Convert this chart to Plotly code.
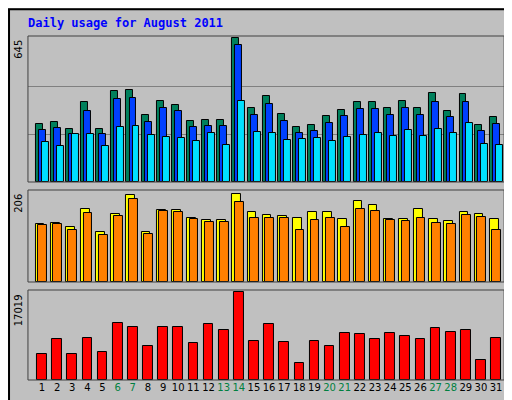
import plotly.graph_objects as go
from plotly.subplots import make_subplots

days = list(range(1, 32))
hits = [260, 269, 237, 358, 237, 408, 412, 300, 363, 345, 273, 278, 278, 645, 331, 385,
        305, 246, 255, 296, 323, 358, 358, 331, 363, 331, 399, 318, 394, 255, 291]
files = [235, 240, 215, 320, 215, 370, 375, 270, 330, 320, 245, 250, 250, 614, 300, 350,
         275, 220, 230, 265, 295, 325, 325, 300, 330, 300, 360, 290, 360, 230, 262]
pages = [179, 161, 215, 215, 161, 246, 251, 210, 202, 197, 184, 220, 166, 363, 224, 220,
         188, 193, 197, 184, 202, 210, 220, 206, 233, 206, 237, 220, 264, 170, 166]
visits = [136, 138, 129, 171, 117, 159, 204, 117, 168, 168, 150, 145, 145, 206, 164, 157,
          154, 150, 164, 164, 147, 190, 180, 147, 147, 171, 147, 143, 164, 159, 147]
sites = [134, 136, 122, 162, 110, 154, 195, 112, 166, 164, 147, 140, 140, 187, 150, 150,
         149, 121, 145, 150, 128, 171, 165, 145, 143, 150, 137, 135, 157, 152, 122]
kbytes = [5018, 7913, 5018, 8106, 5404, 11001, 10229, 6562, 10229, 10229, 7141, 10808,
          9650, 17019, 7527, 10808, 7334, 3281, 7527, 6562, 9071, 8878, 7913, 9071, 8492,
          7913, 10036, 9264, 9650, 3860, 8106]
weekends = [6, 7, 13, 14, 20, 21, 27, 28]

fig = make_subplots(rows=3, cols=1, shared_xaxes=True)

def bars(y, color, off, w, row):
    fig.add_trace(go.Bar(x=days, y=y, marker_color=color, offset=off, width=w,
                         marker_line=dict(color="black", width=1), showlegend=False),
                  row=row, col=1)

bars(hits, "#00805C", -0.42, 0.46, 1)
bars(files, "#0040FF", -0.22, 0.46, 1)
bars(pages, "#00E0FF", -0.02, 0.46, 1)
bars(visits, "#FFFF00", -0.42, 0.58, 2)
bars(sites, "#FF8000", -0.25, 0.58, 2)
bars(kbytes, "#FF0000", -0.32, 0.64, 3)

ticktext = [f"<span style='color:#008040'>{d}</span>" if d in weekends else str(d) for d in days]
xr = [0.075, 31.53]
for i in range(1, 4):
    fig.update_xaxes(range=xr, domain=[0.039, 0.969], showgrid=False, zeroline=False,
                     showticklabels=(i == 3), tickvals=days, ticktext=ticktext, tickangle=0,
                     tickfont=dict(family="DejaVu Sans", size=10, color="black"), ticks="",
                     row=i, col=1)
fig.update_yaxes(domain=[0.565, 0.93], range=[0, 654], tickvals=[215, 430], showticklabels=False,
                 gridcolor="#808080", zeroline=False, row=1, col=1)
fig.update_yaxes(domain=[0.315, 0.545], range=[0, 215], showticklabels=False, showgrid=False,
                 zeroline=False, row=2, col=1)
fig.update_yaxes(domain=[0.07, 0.295], range=[0, 17406], showticklabels=False, showgrid=False,
                 zeroline=False, row=3, col=1)

shapes = [dict(type="rect", xref="paper", yref="paper", x0=0.002, x1=0.998, y0=0.003, y1=0.997,
               line=dict(color="black", width=2))]
for y0, y1 in [[0.565, 0.93], [0.315, 0.545], [0.07, 0.295]]:
    shapes.append(dict(type="rect", xref="paper", yref="paper", x0=0.039, x1=0.969, y0=y0, y1=y1,
                       line=dict(color="#404040", width=1)))

annotations = [dict(text="<b>Daily usage for August 2011</b>", x=0.035, y=0.985, xref="paper",
                    yref="paper", xanchor="left", yanchor="top", showarrow=False,
                    font=dict(family="DejaVu Sans Mono", size=12, color="#0000FF"))]
for txt, yy in [("645", 0.925), ("206", 0.54), ("17019", 0.29)]:
    annotations.append(dict(text=txt, x=0.02, y=yy, xref="paper", yref="paper", textangle=-90,
                            xanchor="center", yanchor="top", showarrow=False,
                            font=dict(family="DejaVu Sans", size=10, color="black")))
legends = [
    ("<span style='color:#00E0FF'>Pages</span>/<span style='color:#0040FF'>Files</span>"
     "/<span style='color:#00805C'>Hits</span>", 0.93),
    ("<span style='color:#FF8000'>Sites</span>/<span style='color:#FFFF00'>Visits</span>", 0.545),
    ("<span style='color:#FF0000'>KBytes</span>", 0.295),
]
for txt, yy in legends:
    annotations.append(dict(text=txt, x=0.972, y=yy, xref="paper", yref="paper", textangle=90,
                            xanchor="left", yanchor="top", showarrow=False,
                            font=dict(family="DejaVu Sans Mono", size=10, color="black")))

fig.update_layout(width=512, height=400, margin=dict(l=0, r=0, t=0, b=0),
                  paper_bgcolor="#C0C0C0", plot_bgcolor="#C0C0C0", barmode="overlay",
                  bargap=0, shapes=shapes, annotations=annotations)
fig.write_html("out.html")
